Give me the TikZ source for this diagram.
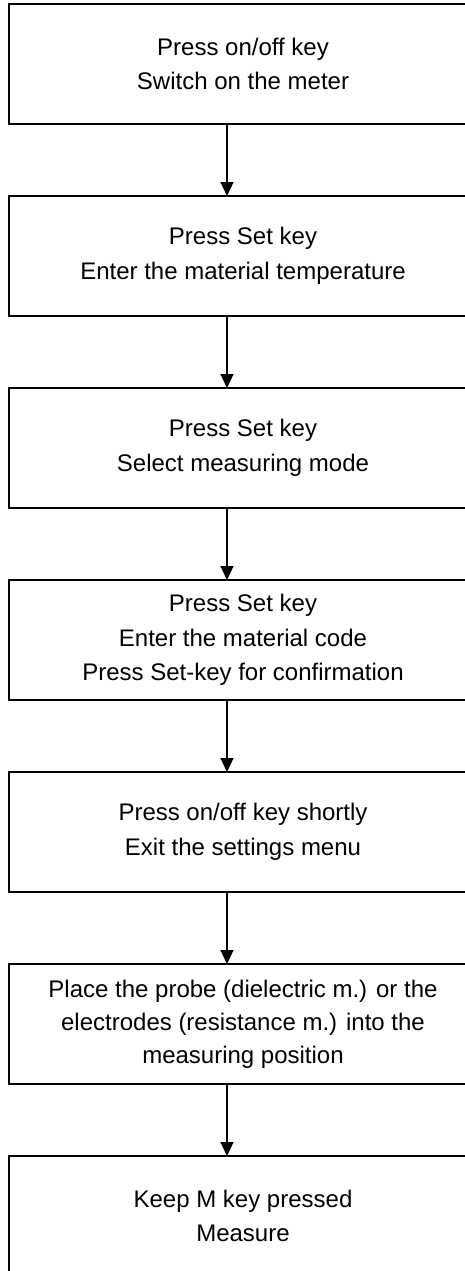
\documentclass[tikz,border=0pt]{standalone}
\usepackage{fontspec}
\setmainfont{Liberation Sans}
\usetikzlibrary{positioning}
\usetikzlibrary{arrows.meta}

\tikzset{
  stepbox/.style={draw, rectangle, line width=1.3pt, minimum width=468pt,
    minimum height=120pt, inner sep=0pt, outer sep=0pt, align=center,
    font=\fontsize{24}{34.5}\selectfont},
  flow/.style={line width=1.3pt, -{Triangle[length=14pt,width=13pt]}}
}

\begin{document}
\begin{tikzpicture}[x=1pt,y=-1pt]
\useasboundingbox (0,0) rectangle (465,1271);
\clip (0,0) rectangle (465,1271);
\node[stepbox] (on) at (243,64) {Press on/off key\\Switch on the meter};
\node[stepbox, below=72pt of on] (temp) {Press Set key\\Enter the material temperature};
\node[stepbox, below=72pt of temp] (mode) {Press Set key\\Select measuring mode};
\node[stepbox, below=72pt of mode] (code) {Press Set key\\Enter the material code\\Press Set-key for confirmation};
\node[stepbox, below=72pt of code] (exit) {Press on/off key shortly\\Exit the settings menu};
\node[stepbox, below=72pt of exit, font=\fontsize{24}{33}\selectfont] (place) {Place the probe (dielectric m.) or the\\electrodes (resistance m.) into the\\measuring position};
\node[stepbox, below=72pt of place] (measure) {Keep M key pressed\\Measure};
%arrows sit a bit left of the box centre
\draw[flow] ([xshift=-16pt]on.south) -- ([xshift=-16pt]temp.north);
\draw[flow] ([xshift=-16pt]temp.south) -- ([xshift=-16pt]mode.north);
\draw[flow] ([xshift=-16pt]mode.south) -- ([xshift=-16pt]code.north);
\draw[flow] ([xshift=-16pt]code.south) -- ([xshift=-16pt]exit.north);
\draw[flow] ([xshift=-16pt]exit.south) -- ([xshift=-16pt]place.north);
\draw[flow] ([xshift=-16pt]place.south) -- ([xshift=-16pt]measure.north);
\end{tikzpicture}
\end{document}
